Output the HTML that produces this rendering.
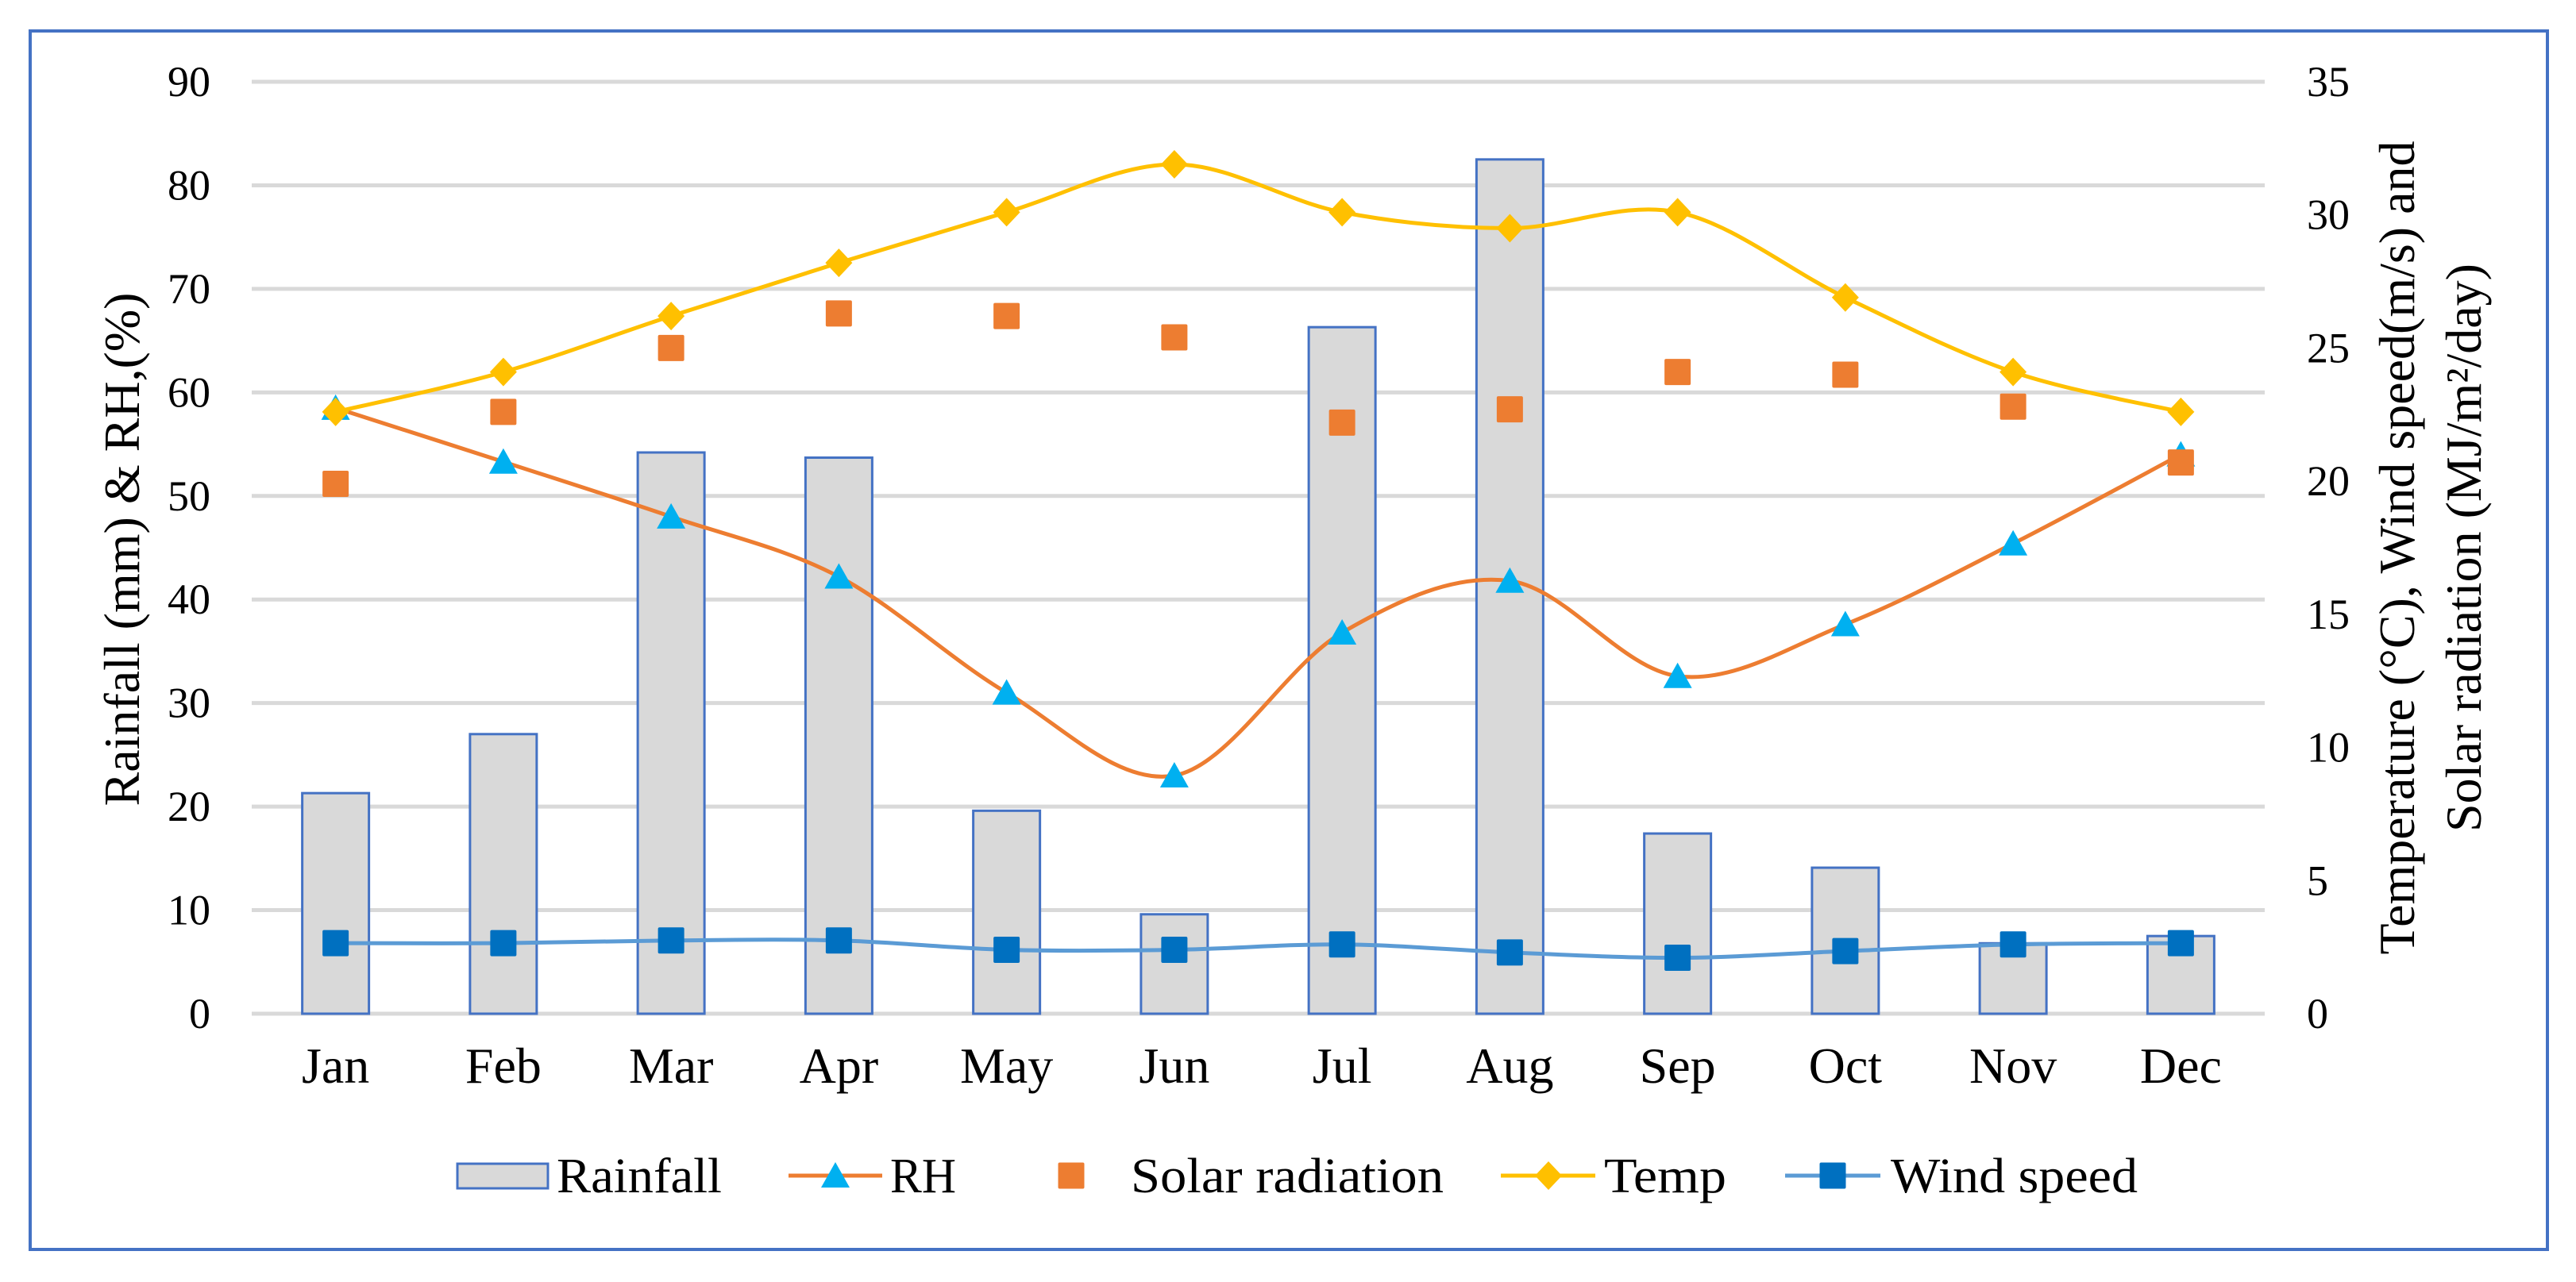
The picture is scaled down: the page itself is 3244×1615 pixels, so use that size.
<!DOCTYPE html>
<html><head><meta charset="utf-8"><style>
html,body{margin:0;padding:0;background:#fff;}
svg{display:block;}
text{font-family:"Liberation Serif",serif;fill:#000;}
</style></head><body>
<svg id="chart" width="3244" height="1615" viewBox="0 0 3244 1615" xmlns="http://www.w3.org/2000/svg">
<rect x="38" y="39" width="3170" height="1535" fill="#fff" stroke="#4472C4" stroke-width="4"/>
<g id="grid"></g>
<g id="bars"></g>
<g id="series"></g>
<g id="axes"></g>
<text transform="translate(175,692) rotate(-90)" text-anchor="middle" font-size="64">Rainfall (mm) &amp; RH,(%)</text>
<text transform="translate(3040,690) rotate(-90)" text-anchor="middle" font-size="64">Temperature (°C), Wind speed(m/s) and</text>
<text transform="translate(3124,690) rotate(-90)" text-anchor="middle" font-size="64">Solar radiation (MJ/m²/day)</text>
<g id="legend"></g>
</svg>
<script>
const months = ["Jan","Feb","Mar","Apr","May","Jun","Jul","Aug","Sep","Oct","Nov","Dec"];
const rainfall = [21.3,27,54.2,53.7,19.6,9.6,66.3,82.5,17.4,14.1,6.8,7.5];
const rh = [58.5,53.3,48,42.2,31,23,36.8,41.8,32.6,37.6,45.4,54];
const temp = [22.6,24.1,26.2,28.2,30.1,31.9,30.1,29.5,30.1,26.9,24.1,22.6];
const solar = [19.9,22.6,25.0,26.3,26.2,25.4,22.2,22.7,24.1,24.0,22.8,20.7];
const wind = [2.65,2.65,2.75,2.75,2.4,2.4,2.6,2.3,2.1,2.35,2.6,2.65];
const leftTicks = [0,10,20,30,40,50,60,70,80,90];
const rightTicks = [0,5,10,15,20,25,30,35];

const NS="http://www.w3.org/2000/svg";
const X0=317, X1=2852, Y0=1277, Ytop=103;
const band=(X1-X0)/months.length;
const xc=i=>X0+band*(i+0.5);
const yL=v=>Y0-(v/90)*(Y0-Ytop);
const yR=v=>Y0-(v/35)*(Y0-Ytop);
function mk(tag,attrs,parent){const e=document.createElementNS(NS,tag);for(const k in attrs)e.setAttribute(k,attrs[k]);parent.appendChild(e);return e;}
const grid=document.getElementById('grid'),bars=document.getElementById('bars'),series=document.getElementById('series'),axes=document.getElementById('axes'),legend=document.getElementById('legend');

leftTicks.forEach(t=>{
  const l=mk('line',{x1:X0,x2:X1,y1:yL(t),y2:yL(t),stroke:'#D9D9D9','stroke-width':5},grid);
  
  
  const tx=mk('text',{x:265,y:yL(t)+18,'text-anchor':'end','font-size':54},axes);
  tx.textContent=t;
  
  
});
rightTicks.forEach(t=>{
  const tx=mk('text',{x:2905,y:yR(t)+18,'text-anchor':'start','font-size':54},axes);
  tx.textContent=t;
  
  
});
months.forEach((m,i)=>{
  const tx=mk('text',{x:xc(i),y:1364,'text-anchor':'middle','font-size':64},axes);
  tx.textContent=m;
  
  
});
const bw=84;
rainfall.forEach((v,i)=>{
  const r=mk('rect',{x:xc(i)-bw/2,y:yL(v),width:bw,height:Y0-yL(v),fill:'#D9D9D9',stroke:'#4472C4','stroke-width':3},bars);
  
  
});
function smooth(pts){
  let d='M'+pts[0][0]+','+pts[0][1];
  for(let i=0;i<pts.length-1;i++){
    const p0=pts[i-1]||pts[i],p1=pts[i],p2=pts[i+1],p3=pts[i+2]||p2;
    const c1=[p1[0]+(p2[0]-p0[0])/6,p1[1]+(p2[1]-p0[1])/6];
    const c2=[p2[0]-(p3[0]-p1[0])/6,p2[1]-(p3[1]-p1[1])/6];
    d+=' C'+c1+' '+c2+' '+p2;
  }
  return d;
}
function line(vals,yf,color,name){
  const p=mk('path',{d:smooth(vals.map((v,i)=>[xc(i),yf(v)])),fill:'none',stroke:color,'stroke-width':5},series);
  
  
}
function sq(x,y,s,color,parent,name){
  const r=mk('rect',{x:x-s/2,y:y-s/2,width:s,height:s,fill:color,rx:2},parent);
  
  
}
function tri(x,y,color,parent,name){
  const p=mk('polygon',{points:`${x},${y-17} ${x+18},${y+15} ${x-18},${y+15}`,fill:color},parent);
  
  
}
function dia(x,y,color,parent,name){
  const p=mk('polygon',{points:`${x},${y-18} ${x+17},${y} ${x},${y+18} ${x-17},${y}`,fill:color},parent);
  
  
}
line(wind,yR,'#5B9BD5','wind-line');
line(rh,yL,'#ED7D31','rh-line');
line(temp,yR,'#FFC000','temp-line');
rh.forEach((v,i)=>tri(xc(i),yL(v),'#00B0F0',series,'rh-point-'+months[i].toLowerCase()));
solar.forEach((v,i)=>sq(xc(i),yR(v),33,'#ED7D31',series,'solar-point-'+months[i].toLowerCase()));
temp.forEach((v,i)=>dia(xc(i),yR(v),'#FFC000',series,'temp-point-'+months[i].toLowerCase()));
wind.forEach((v,i)=>sq(xc(i),yR(v),33,'#0070C0',series,'wind-point-'+months[i].toLowerCase()));

// legend
const LY=1481;
const lb=mk('rect',{x:576,y:LY-15,width:114,height:31,fill:'#D9D9D9',stroke:'#4472C4','stroke-width':3},legend);


function ltext(x,t,w,name){const e=mk('text',{x:x,y:LY+21,'font-size':62,textLength:w,lengthAdjust:'spacingAndGlyphs'},legend);e.textContent=t;
  
  }
function lline(x1,x2,c,name){const e=mk('line',{x1:x1,x2:x2,y1:LY,y2:LY,stroke:c,'stroke-width':5},legend);
  
  }
ltext(701,'Rainfall',208,'legend-rainfall-label');
lline(993,1111,'#ED7D31','legend-rh-line');
tri(1052,LY,'#00B0F0',legend,'legend-rh-marker');
ltext(1121,'RH',83,'legend-rh-label');
sq(1349,LY,33,'#ED7D31',legend,'legend-solar-marker');
ltext(1424,'Solar radiation',394,'legend-solar-label');
lline(1890,2009,'#FFC000','legend-temp-line');
dia(1950,LY,'#FFC000',legend,'legend-temp-marker');
ltext(2020,'Temp',154,'legend-temp-label');
lline(2248,2368,'#5B9BD5','legend-wind-line');
sq(2308,LY,33,'#0070C0',legend,'legend-wind-marker');
ltext(2381,'Wind speed',311,'legend-wind-label');
</script>
</body></html>
